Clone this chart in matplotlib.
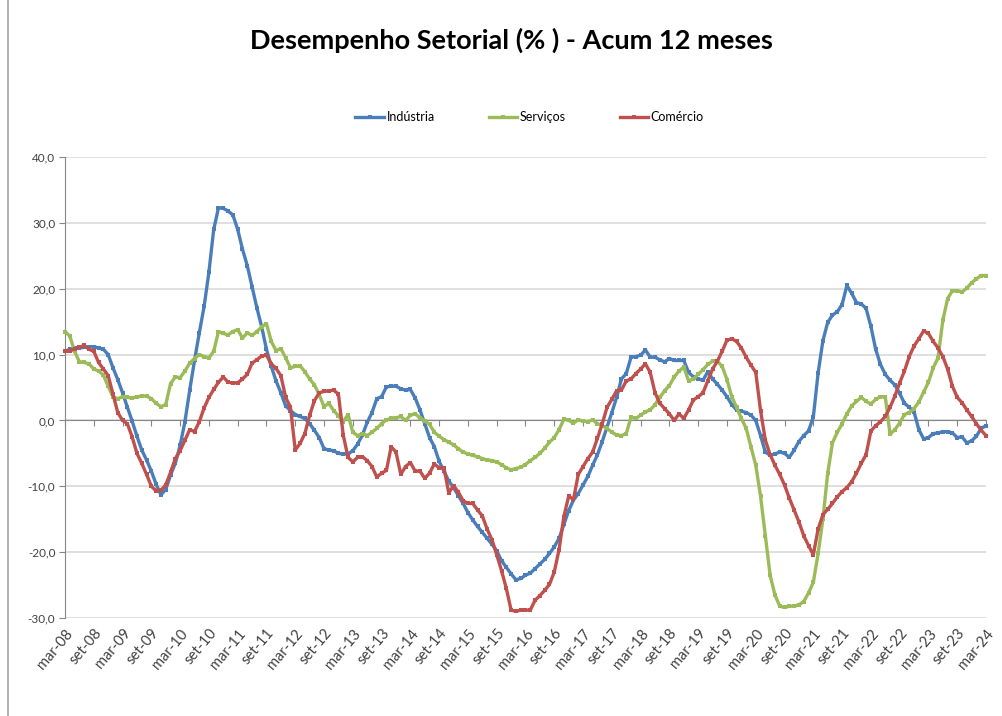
import numpy as np
import matplotlib
matplotlib.use("Agg")
import matplotlib.pyplot as plt
from matplotlib.lines import Line2D
from matplotlib.ticker import FuncFormatter

plt.rcParams['font.family'] = ['Lato', 'DejaVu Sans']

# --- data: monthly, mar-08 .. mar-24 (12-month accumulated, %) ---
industria = [
    10.5, 10.8, 11.0, 11.0, 11.1, 11.2, 11.2, 11.0, 10.8, 10.0, 8.0, 6.2,
    4.2, 2.0, -0.1, -2.4, -4.5, -6.0, -7.7, -9.7, -11.3, -10.5, -8.3, -6.5,
    -3.8, -0.2, 4.6, 9.1, 13.3, 17.3, 22.5, 29.0, 32.3, 32.2, 31.8, 31.2,
    29.0, 26.0, 23.5, 20.3, 17.1, 14.2, 10.8, 8.2, 6.0, 4.2, 2.2, 1.5,
    0.9, 0.6, 0.3, -0.5, -1.5, -2.6, -4.3, -4.5, -4.6, -5.0, -5.1, -5.1,
    -4.6, -3.6, -2.2, -0.3, 1.2, 3.3, 3.6, 5.1, 5.2, 5.2, 4.8, 4.6,
    4.7, 3.4, 1.6, -0.5, -2.6, -4.0, -6.2, -7.7, -9.2, -10.2, -11.4, -12.6,
    -14.0, -15.1, -16.1, -17.0, -17.9, -18.8, -19.8, -21.3, -22.3, -23.3, -24.2, -24.0,
    -23.5, -23.2, -22.5, -21.8, -21.1, -20.2, -19.2, -17.9, -15.8, -13.7, -12.1, -11.1,
    -9.8, -8.5, -6.8, -5.2, -3.2, -1.0, 1.2, 3.5, 6.3, 7.1, 9.6, 9.7,
    9.9, 10.7, 9.6, 9.6, 9.2, 8.9, 9.4, 9.1, 9.1, 9.1, 7.3, 6.6,
    6.3, 6.1, 7.4, 6.3, 5.5, 4.6, 3.6, 2.4, 1.6, 1.4, 1.2, 0.8,
    0.0, -2.3, -4.8, -5.3, -5.1, -4.8, -5.0, -5.6, -4.5, -3.2, -2.3, -1.6,
    0.5, 7.2, 12.1, 14.9, 16.0, 16.5, 17.6, 20.5, 19.3, 17.9, 17.7, 17.0,
    14.3, 10.8, 8.5, 7.0, 6.1, 5.4, 4.1, 2.6, 2.0, 1.3, -1.4, -2.8,
    -2.6, -2.0, -1.9, -1.7, -1.7, -1.9, -2.6, -2.5, -3.4, -3.1, -2.4, -1.2,
    -0.8]

servicos = [
    13.5, 12.8, 10.5, 8.9, 8.8, 8.6, 7.8, 7.5, 6.9, 5.2, 3.6, 3.3,
    3.6, 3.5, 3.4, 3.6, 3.7, 3.7, 3.3, 2.6, 2.1, 2.4, 5.6, 6.6,
    6.5, 7.5, 8.7, 9.4, 10.0, 9.7, 9.5, 10.5, 13.5, 13.2, 13.0, 13.5,
    13.8, 12.5, 13.3, 12.9, 13.5, 14.2, 14.7, 12.0, 10.6, 10.9, 9.5, 8.0,
    8.2, 8.3, 7.4, 6.3, 5.4, 3.9, 2.1, 2.6, 1.5, 0.7, -0.2, 0.9,
    -1.8, -2.3, -2.0, -2.3, -1.8, -1.2, -0.5, 0.1, 0.3, 0.4, 0.6, 0.0,
    0.8, 1.0, 0.4, -0.1, -0.6, -1.8, -2.4, -2.9, -3.3, -3.7, -4.3, -4.8,
    -5.1, -5.3, -5.5, -5.8, -6.0, -6.1, -6.3, -6.7, -7.2, -7.5, -7.3, -7.1,
    -6.7, -6.1, -5.6, -5.0, -4.2, -3.3, -2.6, -1.4, 0.2, 0.0, -0.4, 0.1,
    -0.1, -0.2, 0.1, -0.5, -0.8, -1.2, -1.8, -2.2, -2.3, -2.0, 0.5, 0.3,
    0.8, 1.3, 1.6, 2.4, 3.5, 4.5, 5.3, 6.6, 7.5, 8.1, 6.0, 6.3,
    7.0, 7.7, 8.5, 9.0, 9.0, 8.2, 6.2, 3.6, 2.0, 0.3, -1.2, -4.0,
    -6.8, -11.5, -17.5, -23.5, -26.5, -28.2, -28.4, -28.2, -28.2, -28.0, -27.5, -26.2,
    -24.6, -20.2, -15.0, -8.0, -3.4, -1.8, -0.5, 1.0, 2.2, 2.9, 3.5, 2.9,
    2.5, 3.2, 3.6, 3.6, -2.1, -1.4, -0.4, 0.9, 1.2, 1.8, 2.8, 4.3,
    5.8, 8.0, 9.5, 15.2, 18.5, 19.7, 19.7, 19.5, 20.1, 20.9, 21.5, 22.0,
    22.0]

comercio = [
    10.5, 10.5, 10.9, 11.1, 11.4, 10.8, 10.5, 8.8, 7.8, 6.8, 4.0, 1.2,
    0.0, -0.5, -2.5, -5.0, -6.5, -8.2, -10.0, -10.7, -10.6, -9.8, -7.9, -5.8,
    -4.6, -3.0, -1.4, -1.7, -0.2, 1.9, 3.5, 4.7, 5.8, 6.6, 5.8, 5.7,
    5.7, 6.3, 7.0, 8.7, 9.2, 9.8, 9.9, 8.6, 7.9, 6.8, 3.5, 2.0,
    -4.5, -3.5, -2.0, 0.8, 3.0, 4.2, 4.4, 4.5, 4.6, 4.0, -2.2, -5.6,
    -6.3, -5.6, -5.5, -6.1, -7.0, -8.6, -8.0, -7.6, -4.0, -4.8, -8.2, -7.0,
    -6.4, -7.7, -7.7, -8.8, -8.0, -6.6, -7.2, -7.2, -11.0, -9.9, -10.9, -12.2,
    -12.6, -12.6, -13.6, -14.5, -16.5, -18.1, -20.4, -22.8, -25.5, -28.8, -29.0, -28.8,
    -28.8, -28.8, -27.3, -26.6, -25.8, -24.9, -23.0, -19.6, -14.6, -11.5, -12.0, -8.2,
    -7.0, -5.8, -4.8, -2.7, -0.5, 2.0, 3.2, 4.5, 4.6, 6.0, 6.3, 7.1,
    7.8, 8.6, 7.3, 4.2, 2.6, 1.8, 1.0, 0.0, 1.0, 0.3, 1.6, 3.1,
    3.6, 4.2, 6.0, 7.8, 9.0, 10.5, 12.2, 12.4, 12.0, 11.0, 9.6, 8.4,
    7.3, 1.5, -3.0, -5.2, -6.8, -8.2, -9.8, -11.8, -13.6, -15.4, -17.5, -19.0,
    -20.4, -16.5, -14.3, -13.5, -12.6, -11.6, -10.8, -10.2, -9.3, -8.0, -6.5, -5.2,
    -1.6, -0.8, -0.2, 0.6, 2.0, 3.7, 5.7, 7.5, 9.7, 11.3, 12.4, 13.6,
    13.2, 12.0, 11.0, 9.7, 7.8, 5.2, 3.5, 2.7, 1.6, 0.6, -0.5, -1.5,
    -2.3]

tick_labels = ['mar-08', 'set-08', 'mar-09', 'set-09', 'mar-10', 'set-10', 'mar-11',
               'set-11', 'mar-12', 'set-12', 'mar-13', 'set-13', 'mar-14', 'set-14',
               'mar-15', 'set-15', 'mar-16', 'set-16', 'mar-17', 'set-17', 'mar-18',
               'set-18', 'mar-19', 'set-19', 'mar-20', 'set-20', 'mar-21', 'set-21',
               'mar-22', 'set-22', 'mar-23', 'set-23', 'mar-24']

series = [('Indústria', industria, '#4A7EBB'),
          ('Serviços', servicos, '#9BBB59'),
          ('Comércio', comercio, '#C0504D')]

W, H = 1003, 716
fig = plt.figure(figsize=(W / 100, H / 100), dpi=100)
fig.patch.set_facecolor('white')

ax = fig.add_axes([65 / W, 1 - 618 / H, (986 - 65) / W, (618 - 157) / H])

x = np.arange(len(industria))
handles = []
for name, vals, col in series:
    ln, = ax.plot(x, vals, color=col, lw=2.4, marker='s', ms=2.6, mew=0,
                  label=name, clip_on=False, zorder=3)
    handles.append(ln)

ax.set_xlim(0, len(industria) - 1)
ax.set_ylim(-30, 40)
ax.set_yticks(np.arange(-30, 41, 10))
ax.yaxis.set_major_formatter(FuncFormatter(lambda v, p: f"{v:.1f}".replace('.', ',')))
ax.yaxis.grid(True, color='#d9d9d9', lw=1.2)
ax.set_axisbelow(True)
ax.tick_params(axis='y', direction='out', length=4, color='#868686',
               labelsize=8.5, labelcolor='#404040', pad=3)

for s in ['top', 'right']:
    ax.spines[s].set_visible(False)
ax.spines['left'].set_color('#868686')
ax.spines['bottom'].set_position(('data', 0))
ax.spines['bottom'].set_color('#868686')

ticks = np.arange(0, len(industria), 6)
ax.set_xticks(ticks)
ax.tick_params(axis='x', direction='out', length=4, color='#868686', labelbottom=False)

# category labels sit below the plot area, like Excel's "low" position
sec = ax.secondary_xaxis('bottom')
sec.set_xticks(ticks)
sec.set_xticklabels(tick_labels, rotation=50, ha='right', rotation_mode='anchor',
                    fontsize=10.5, color='#404040')
sec.tick_params(length=0, pad=6)
sec.spines['bottom'].set_visible(False)

fig.text(0.51, 1 - 40 / H, 'Desempenho Setorial (% ) - Acum 12 meses',
         ha='center', va='center', fontsize=19.5, fontweight='bold', color='black')

fig.legend(handles=handles, loc='center', bbox_to_anchor=(0.528, 1 - 117 / H), ncol=3,
           frameon=False, fontsize=9, handlelength=2.3, handletextpad=0.2,
           columnspacing=4.3)

# chart frame edge on the left
fig.add_artist(Line2D([8 / W, 8 / W], [0, 1], color='#a6a6a6', lw=1.2))

fig.savefig('out.png', dpi=100, facecolor='white')
